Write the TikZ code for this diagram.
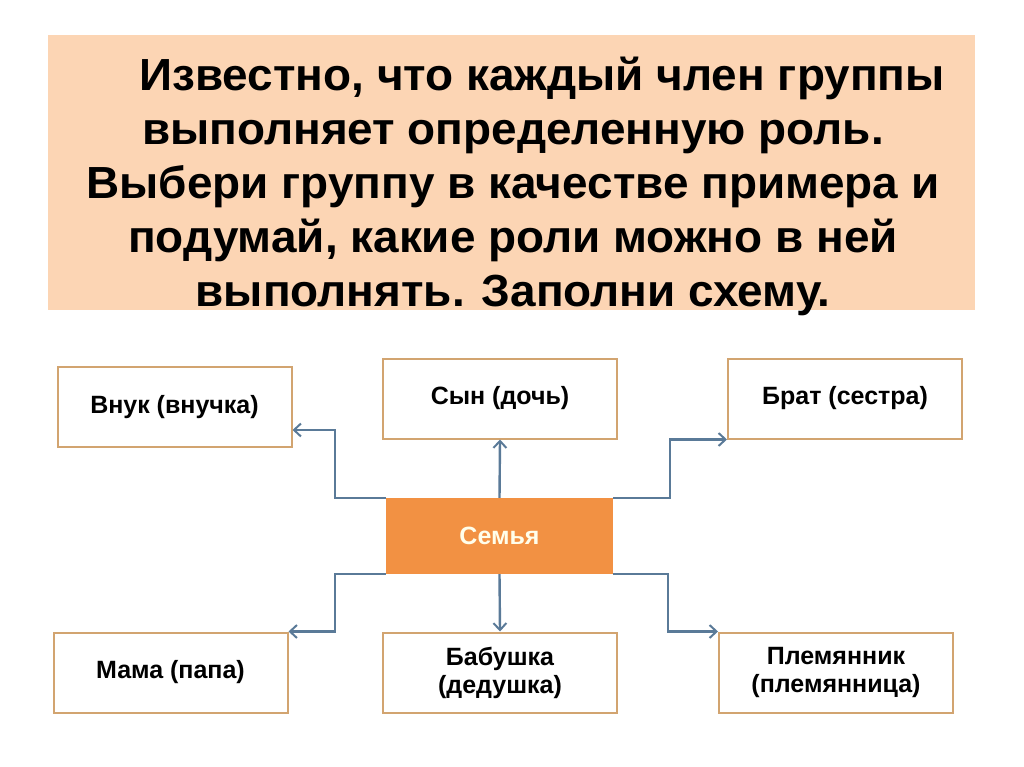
\documentclass[tikz,border=0pt]{standalone}
\usepackage{fontspec}
\setmainfont{Liberation Sans}
\newfontfamily\narrowfont[FakeStretch=1.02]{Liberation Sans}
\usetikzlibrary{arrows.meta}
\definecolor{peach}{HTML}{FCD5B4}
\definecolor{boxline}{HTML}{D2A470}
\definecolor{familyfill}{HTML}{F29143}
\definecolor{linkblue}{HTML}{5A7A98}
\tikzset{
% white boxes for the roles and the orange box in the middle
role box/.style={rectangle,draw=boxline,line width=2pt,fill=white,minimum width=234pt,minimum height=80pt,align=center,font=\fontsize{25}{28}\selectfont\bfseries},
family box/.style={rectangle,fill=familyfill,minimum width=227pt,minimum height=76pt,text=yellow!8,font=\fontsize{25}{28}\selectfont\bfseries},
% connectors from the family box
link/.style={draw=linkblue,line width=2.4pt,-{Straight Barb[length=7pt,width=13pt,line width=2pt]}}
}

\begin{document}
\begin{tikzpicture}[x=1pt,y=-1pt]
\useasboundingbox (0,0) rectangle (1024,767);
% task text on a peach panel
\fill[peach] (48,35) rectangle (975,310);
\node[align=center,font=\narrowfont\fontsize{45}{54}\selectfont\bfseries](task) at (513,186)
{\hspace*{58pt}Известно, что каждый член группы\\
выполняет определенную роль.\\
Выбери группу в качестве примера и\\
подумай, какие роли можно в ней\\
выполнять. Заполни схему.};
% the scheme
\node[family box](semya) at (499.5,536){Семья};
\node[role box](vnuk) at (174.5,407){Внук (внучка)};
\node[role box](syn) at (500,398.5){Сын (дочь)};
\node[role box](brat) at (845,398.5){Брат (сестра)};
\node[role box](mama) at (170.5,672.5){Мама (папа)};
\node[role box](babushka) at (500,672.5){Бабушка\\(дедушка)};
\node[role box](plem) at (836,672.5){Племянник\\(племянница)};
% arrows
\draw[link] (semya.north west) -- ++(-51,0) |- ([yshift=-23pt]vnuk.east);
\draw[link] (semya.north) -- (syn.south);
\draw[link] (semya.north east) -- ++(57,0) |- (brat.south west);
\draw[link] (semya.south west) -- ++(-51,0) |- (mama.north east);
\draw[link] (semya.south) -- (babushka.north);
\draw[link] (semya.south east) -- ++(55,0) |- (plem.north west);
\end{tikzpicture}
\end{document}
